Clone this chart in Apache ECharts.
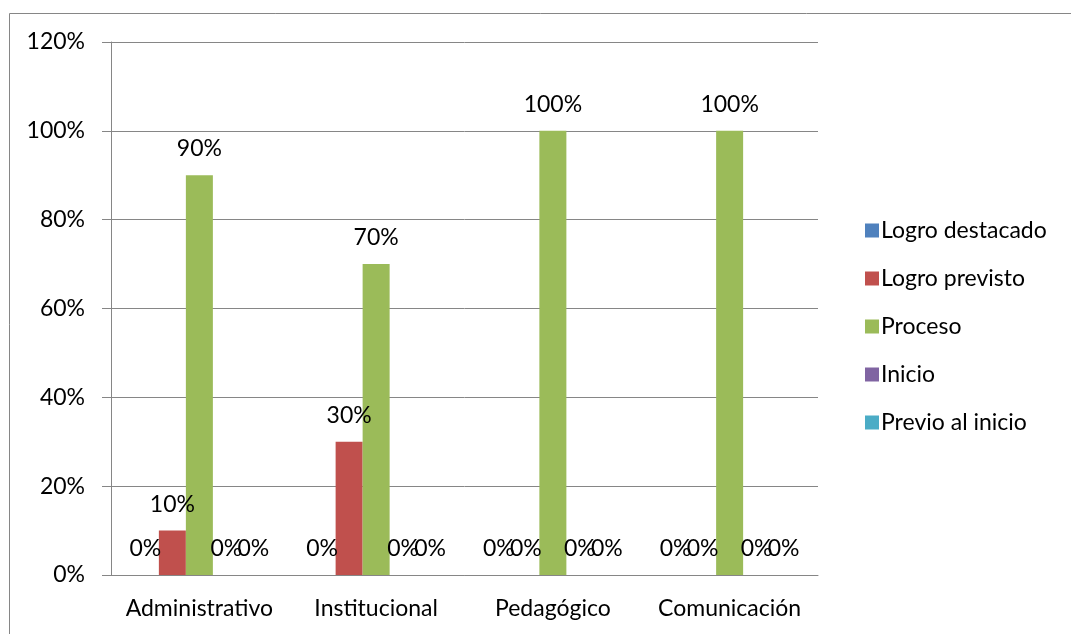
<!DOCTYPE html>
<html>
<head>
<meta charset="utf-8">
<script src="https://cdn.jsdelivr.net/npm/echarts@6/dist/echarts.min.js"></script>
<style>
  html, body { margin: 0; padding: 0; background: #fff; }
  #panel { width: 1071px; height: 634px; }
</style>
</head>
<body>
<div id="panel"></div>
<script>
  // datos del gráfico
  const categories = ["Administrativo", "Institucional", "Pedagógico", "Comunicación"];
  const seriesNames = ["Logro destacado", "Logro previsto", "Proceso", "Inicio", "Previo al inicio"];
  const logroDestacado = [0, 0, 0, 0];
  const logroPrevisto = [0.1, 0.3, 0, 0];
  const proceso = [0.9, 0.7, 1, 1];
  const inicio = [0, 0, 0, 0];
  const previoInicio = [0, 0, 0, 0];
  const colors = ["#4F81BD", "#C0504D", "#9BBB59", "#8064A2", "#4BACC6"];

  const font = "Lato, 'Open Sans', sans-serif";
  const fs = 23;
  const pct = v => Math.round(v * 100) + "%";

  let panel = echarts.init(document.getElementById("panel"));
  let values = [logroDestacado, logroPrevisto, proceso, inicio, previoInicio];

  let option = {
    animation: false,
    color: colors,
    graphic: [{
      type: "rect",
      shape: { x: 9.5, y: 13.5, width: 1200, height: 800 },
      style: { fill: "none", stroke: "#868686", lineWidth: 1 }
    }],
    grid: { left: 111, right: 253, top: 42, bottom: 59 },
    legend: {
      orient: "vertical",
      left: 860,
      top: 214,
      itemWidth: 14,
      itemHeight: 14,
      itemGap: 25,
      icon: "rect",
      textStyle: { fontFamily: font, fontSize: fs, color: "#000", padding: [0, 0, 0, -3] },
      data: seriesNames
    },
    xAxis: {
      type: "category",
      data: categories,
      axisLine: { lineStyle: { color: "#868686" } },
      axisTick: { length: 6, lineStyle: { color: "#868686" } },
      axisLabel: { fontFamily: font, fontSize: fs, color: "#000", margin: 22, interval: 0 }
    },
    yAxis: {
      type: "value",
      min: 0,
      max: 1.2,
      interval: 0.2,
      axisLine: { show: true, lineStyle: { color: "#868686" } },
      axisTick: { show: true, length: 9, lineStyle: { color: "#868686" } },
      splitLine: { lineStyle: { color: "#868686" } },
      axisLabel: { fontFamily: font, fontSize: fs, color: "#000", margin: 26, formatter: pct }
    },
    series: seriesNames.map((name, i) => ({
      name: name,
      type: "bar",
      data: values[i],
      barGap: "0%",
      barCategoryGap: "23.6%",
      label: {
        show: true,
        position: "top",
        distance: 15,
        fontFamily: font,
        fontSize: fs,
        color: "#000",
        formatter: p => pct(p.value)
      }
    }))
  };
  panel.setOption(option, true);
</script>
</body>
</html>
